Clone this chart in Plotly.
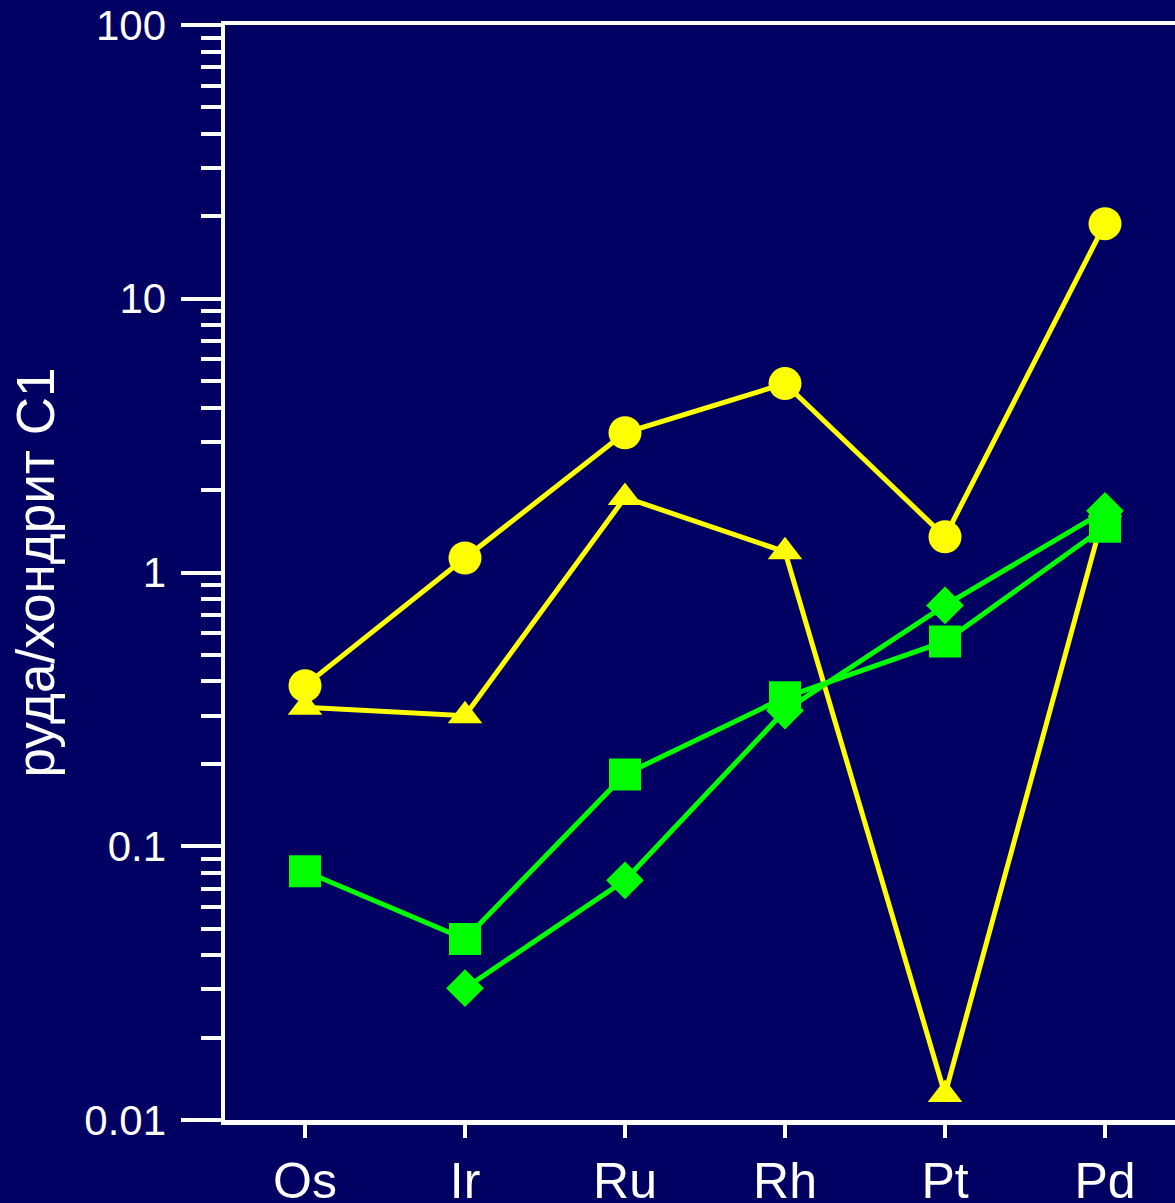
import plotly.graph_objects as go

elements = ["Os", "Ir", "Ru", "Rh", "Pt", "Pd"]
yellow_circles = [0.386, 1.13, 3.24, 4.90, 1.35, 18.8]
yellow_triangles = [0.322, 0.300, 1.88, 1.19, 0.0124, 1.70]
green_squares = [0.081, 0.0458, 0.183, 0.350, 0.560, 1.47]
green_diamonds = [None, 0.0303, 0.0751, 0.313, 0.758, 1.68]

y_tickvals = [0.01, 0.1, 1, 10, 100]
y_ticktext = ["0.01", "0.1", "1", "10", "100"]
y_title = "руда/хондрит С1"

BG = "#000062"
YEL = "#FFFF00"
GRN = "#00FF00"
FONT = "Liberation Sans, Arial, sans-serif"

fig = go.Figure()

def add(vals, color, symbol, size):
    fig.add_trace(go.Scatter(
        x=elements, y=vals, mode="lines+markers",
        line=dict(color=color, width=5),
        marker=dict(symbol=symbol, size=size, color=color, line=dict(width=0)),
        connectgaps=False, showlegend=False, hoverinfo="skip",
    ))

add(yellow_triangles, YEL, "triangle-up", 30)
add(yellow_circles, YEL, "circle", 33)
add(green_squares, GRN, "square", 32)
add(green_diamonds, GRN, "diamond", 29)

fig.update_layout(
    width=1175, height=1203, autosize=False,
    margin=dict(l=225, r=0, t=25, b=83, pad=0, autoexpand=False),
    paper_bgcolor=BG, plot_bgcolor=BG,
    font=dict(family=FONT, color="white"),
    xaxis=dict(
        type="category", range=[-0.5, 5.4375], automargin=False,
        showgrid=False, zeroline=False,
        showline=True, linecolor="white", linewidth=4.5, mirror=True,
        ticks="outside", ticklen=13, tickwidth=4, tickcolor="white",
        tickfont=dict(size=50, color="white", family=FONT),
    ),
    yaxis=dict(
        type="log", range=[-2, 2], automargin=False,
        showgrid=False, zeroline=False,
        showline=True, linecolor="white", linewidth=4.5,
        tickvals=y_tickvals, ticktext=y_ticktext,
        ticks="outside", ticklen=40, tickwidth=4, tickcolor="white",
        tickfont=dict(size=42, color="white", family=FONT),
        ticklabelstandoff=6,
        minor=dict(dtick="D1", ticks="outside", ticklen=20, tickwidth=4, tickcolor="white", showgrid=False),
        title=dict(text=y_title, font=dict(size=53, color="white", family=FONT), standoff=14),
    ),
)

fig.write_html(
    "out.html",
    config={"displayModeBar": False, "staticPlot": True},
    post_script="document.body.style.margin='0px';document.body.style.overflow='hidden';document.body.style.background='" + BG + "';",
)
